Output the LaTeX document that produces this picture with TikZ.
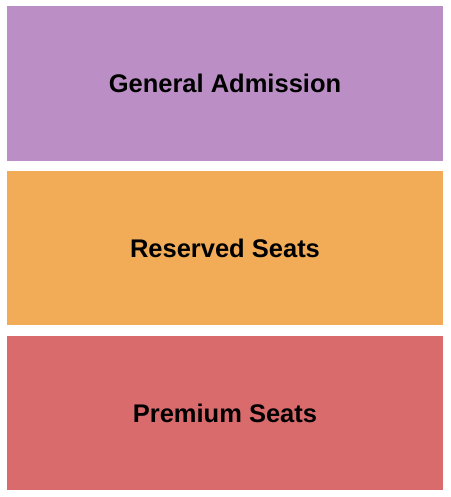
\documentclass[tikz,border=0pt]{standalone}
\usepackage{fontspec}
\setmainfont{Liberation Sans}
\usepackage{tikz}

\definecolor{gapurple}{HTML}{BB8FC5}
\definecolor{rsorange}{HTML}{F2AC58}
\definecolor{pmred}{HTML}{D96B6C}

\begin{document}
\begin{tikzpicture}[x=1pt,y=-1pt,
  section/.style={draw=none,minimum width=436pt,minimum height=154pt,inner sep=0pt,
    font=\fontsize{25.5}{30}\selectfont\bfseries,text=black}]
\useasboundingbox (0,0) rectangle (450,497);
%general admission
\node[section,fill=gapurple] (ga) at (225,83.5) {General Admission};
%reserved
\node[section,fill=rsorange] (rs) at (225,248) {Reserved Seats};
%premium
\node[section,fill=pmred] (pm) at (225,413) {Premium Seats};
\end{tikzpicture}
\end{document}
